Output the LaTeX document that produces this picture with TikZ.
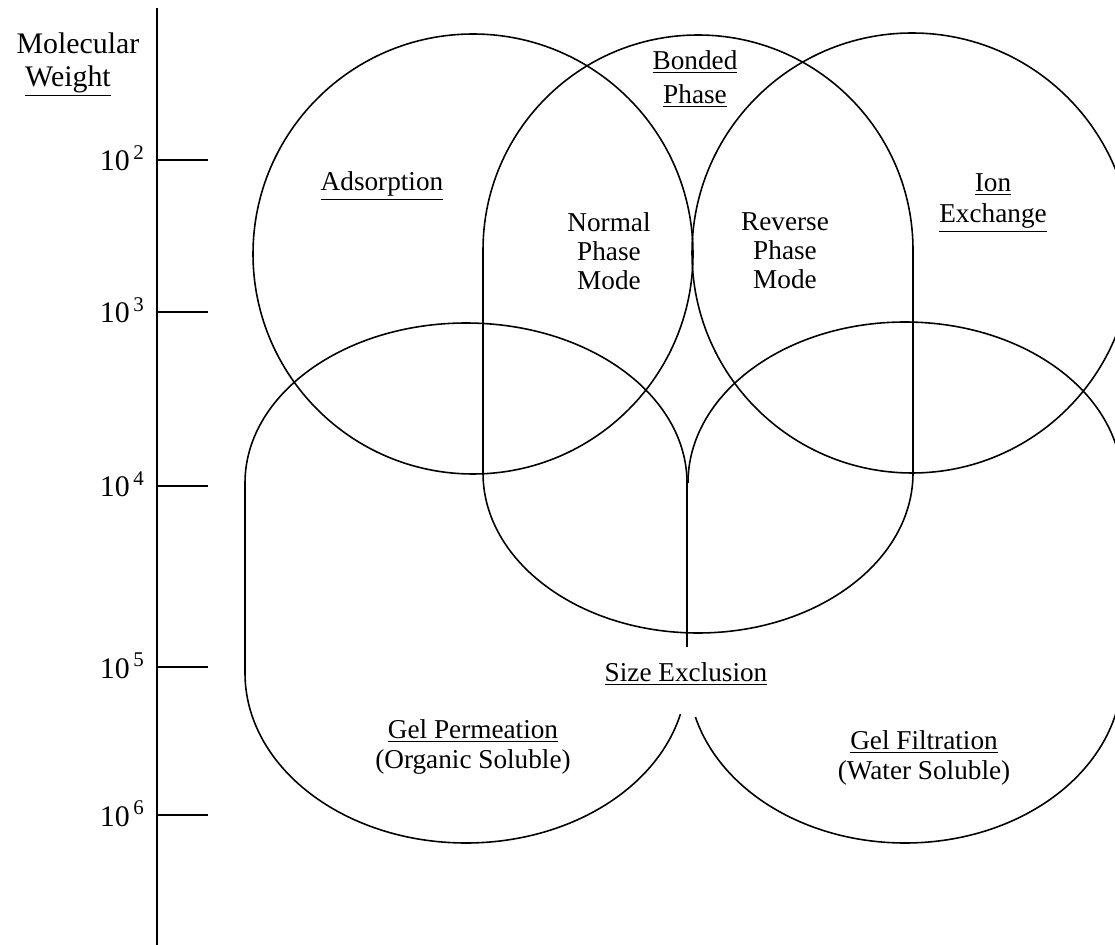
\documentclass[tikz,border=0pt]{standalone}
\usepackage{fontspec}
\setmainfont{Liberation Serif}
\begin{document}
\begin{tikzpicture}[x=0.02cm,y=0.02cm,line join=round,
  region/.style={line width=0.9pt},
  axisline/.style={line width=1.7pt},
  tickline/.style={line width=1.5pt},
  lbl/.style={font=\fontsize{15.5pt}{16.6pt}\selectfont,align=center,inner sep=0pt},
  axlbl/.style={font=\fontsize{17pt}{18pt}\selectfont,inner sep=0pt}]
\useasboundingbox (0,0) rectangle (1115,-945);
\clip (0,0) rectangle (1115,-945);

% axis
\coordinate (atop) at (157,-8);
\coordinate (abot) at (157,-945);
\draw[axisline] (atop) -- (abot);
\foreach \k/\yy in {2/160,3/312,4/486,5/667,6/815}{
  \coordinate (t\k) at (157,-\yy);
  \draw[tickline] (t\k) -- ++(51,0);
  \node[axlbl,anchor=base east] (l\k) at ([xshift=-12*0.02cm,yshift=-11*0.02cm]t\k) {10\textsuperscript{\,\k}};
}
\node[lbl,font=\fontsize{17pt}{18pt}\selectfont] (mol) at (78,-43) {Molecular};
\node[lbl,font=\fontsize{17pt}{18pt}\selectfont] (wt) at (68,-81) {\underline{Weight}};

% Adsorption and Ion Exchange circles
\draw[region] (473,-254) circle[radius=220];
\draw[region] (912,-253) circle[radius=220];

% Bonded phase capsule
\draw[region] (483,-473) -- (483,-250)
  arc[start angle=180,end angle=0,radius=215] -- (913,-473)
  arc[start angle=0,end angle=-180,x radius=215,y radius=160] -- cycle;

% Size exclusion: left lobe
\draw[region] (687,-483)
  arc[start angle=0,end angle=180,x radius=221,y radius=160] -- (245,-673)
  arc[start angle=180,end angle=346,x radius=221,y radius=170];
% right lobe
\draw[region] (688,-483)
  arc[start angle=180,end angle=0,x radius=217,y radius=161] -- (1122,-673)
  arc[start angle=0,end angle=-165,x radius=217,y radius=170];
% centre divider
\coordinate (cusp) at (687,-483);
\coordinate (cend) at (687,-647);
\draw[region] (cusp) -- (cend);

% labels
\node[lbl] (ads) at (382,-186) {\underline{Adsorption}};
\node[lbl] (npm) at (609,-251) {Normal\\Phase\\Mode};
\node[lbl] (rpm) at (785,-251) {Reverse\\Phase\\Mode};
\node[lbl] (bp) at (695,-79) {\underline{Bonded}\\[3pt]\underline{Phase}};
\node[lbl] (ion) at (993,-203) {\underline{Ion}\\[1pt]\underline{Exchange}};
\node[lbl] (se) at (686,-674) {\underline{Size Exclusion}};
\node[lbl] (gp) at (473,-747) {\underline{Gel Permeation}\\(Organic Soluble)};
\node[lbl] (gf) at (924,-758) {\underline{Gel Filtration}\\(Water Soluble)};
\end{tikzpicture}
\end{document}
